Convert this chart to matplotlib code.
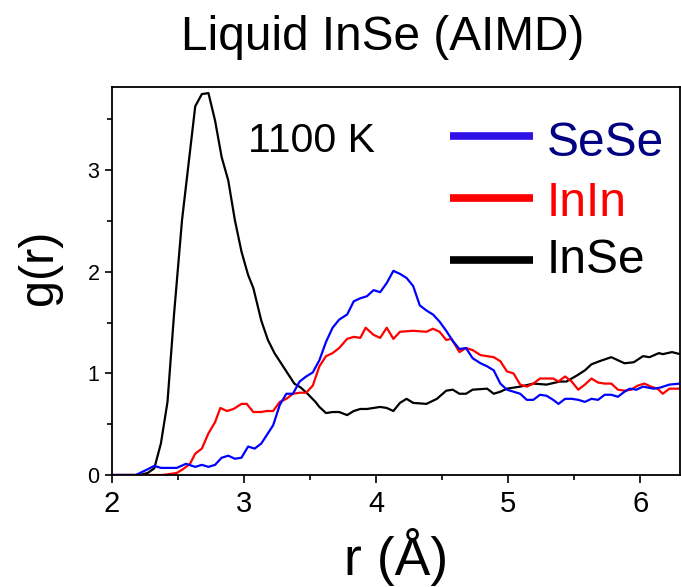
import matplotlib.pyplot as plt
from matplotlib.ticker import MultipleLocator

plt.rcParams['font.family'] = ['Liberation Sans', 'DejaVu Sans']

# InSe partial g(r)
r_inse = [2.0, 2.21, 2.27, 2.32, 2.37, 2.42, 2.47, 2.53, 2.58, 2.63, 2.68, 2.73, 2.78, 2.83,
          2.88, 2.93, 2.98, 3.03, 3.07, 3.13, 3.18, 3.23, 3.28, 3.33, 3.38, 3.43, 3.48, 3.54,
          3.57, 3.62, 3.67, 3.72, 3.78, 3.83, 3.88, 3.93, 3.98, 4.03, 4.08, 4.13, 4.18, 4.23,
          4.28, 4.38, 4.46, 4.53, 4.58, 4.63, 4.68, 4.73, 4.84, 4.89, 4.94, 4.99, 5.09, 5.19,
          5.29, 5.39, 5.44, 5.52, 5.58, 5.63, 5.69, 5.78, 5.83, 5.88, 5.95, 6.02, 6.07, 6.14,
          6.17, 6.24, 6.30]
g_inse = [0.0, 0.0, 0.02, 0.066, 0.31, 0.72, 1.59, 2.51, 3.07, 3.63, 3.75, 3.76, 3.49, 3.13,
          2.90, 2.51, 2.20, 1.97, 1.84, 1.52, 1.33, 1.20, 1.10, 1.00, 0.90, 0.86, 0.80, 0.72,
          0.67, 0.61, 0.62, 0.62, 0.59, 0.63, 0.65, 0.65, 0.66, 0.67, 0.66, 0.63, 0.71, 0.75,
          0.71, 0.70, 0.75, 0.83, 0.84, 0.80, 0.80, 0.84, 0.85, 0.80, 0.82, 0.85, 0.87, 0.90,
          0.89, 0.92, 0.92, 0.98, 1.03, 1.09, 1.12, 1.16, 1.13, 1.10, 1.11, 1.17, 1.16, 1.20,
          1.19, 1.21, 1.19]

# SeSe partial g(r)
r_sese = [2.0, 2.18, 2.26, 2.32, 2.37, 2.49, 2.56, 2.63, 2.68, 2.73, 2.78, 2.83, 2.88, 2.93,
          2.98, 3.03, 3.08, 3.13, 3.17, 3.22, 3.27, 3.32, 3.37, 3.42, 3.47, 3.52, 3.57, 3.62,
          3.67, 3.72, 3.78, 3.83, 3.88, 3.93, 3.98, 4.03, 4.08, 4.13, 4.18, 4.23, 4.28, 4.33,
          4.38, 4.43, 4.48, 4.53, 4.58, 4.63, 4.68, 4.73, 4.79, 4.84, 4.89, 4.94, 4.99, 5.04,
          5.09, 5.14, 5.19, 5.24, 5.29, 5.34, 5.38, 5.43, 5.48, 5.53, 5.58, 5.63, 5.68, 5.73,
          5.78, 5.83, 5.88, 5.92, 5.97, 6.02, 6.10, 6.15, 6.22, 6.30]
g_sese = [0.0, 0.0, 0.05, 0.09, 0.07, 0.07, 0.11, 0.08, 0.10, 0.08, 0.10, 0.17, 0.19, 0.16,
          0.17, 0.28, 0.26, 0.31, 0.39, 0.49, 0.69, 0.80, 0.80, 0.92, 0.97, 1.01, 1.13, 1.31,
          1.45, 1.53, 1.58, 1.71, 1.74, 1.76, 1.82, 1.80, 1.89, 2.01, 1.98, 1.94, 1.86, 1.67,
          1.62, 1.58, 1.51, 1.42, 1.32, 1.24, 1.25, 1.15, 1.10, 1.07, 1.03, 0.90, 0.84, 0.82,
          0.80, 0.74, 0.74, 0.79, 0.78, 0.74, 0.70, 0.75, 0.75, 0.74, 0.72, 0.75, 0.74, 0.79,
          0.79, 0.77, 0.82, 0.85, 0.84, 0.87, 0.85, 0.86, 0.89, 0.90]

# InIn partial g(r)
r_inin = [2.0, 2.38, 2.44, 2.49, 2.54, 2.59, 2.63, 2.68, 2.73, 2.78, 2.82, 2.87, 2.92, 2.98,
          3.02, 3.07, 3.13, 3.17, 3.22, 3.27, 3.32, 3.37, 3.42, 3.47, 3.52, 3.57, 3.62, 3.67,
          3.72, 3.78, 3.83, 3.88, 3.92, 3.98, 4.03, 4.08, 4.13, 4.18, 4.28, 4.38, 4.43, 4.48,
          4.53, 4.57, 4.63, 4.68, 4.73, 4.79, 4.84, 4.89, 4.94, 4.99, 5.04, 5.09, 5.14, 5.19,
          5.24, 5.34, 5.38, 5.43, 5.48, 5.53, 5.58, 5.63, 5.68, 5.73, 5.78, 5.83, 5.88, 5.93,
          5.98, 6.03, 6.08, 6.13, 6.17, 6.22, 6.30]
g_inin = [0.0, 0.0, 0.01, 0.02, 0.06, 0.11, 0.21, 0.26, 0.41, 0.52, 0.66, 0.63, 0.65, 0.70,
          0.70, 0.62, 0.62, 0.63, 0.63, 0.72, 0.75, 0.80, 0.81, 0.81, 0.88, 1.07, 1.17, 1.20,
          1.25, 1.34, 1.36, 1.35, 1.45, 1.38, 1.35, 1.45, 1.34, 1.41, 1.42, 1.41, 1.44, 1.41,
          1.33, 1.34, 1.21, 1.25, 1.23, 1.18, 1.17, 1.16, 1.12, 1.02, 1.00, 0.89, 0.87, 0.90,
          0.95, 0.95, 0.92, 0.97, 0.92, 0.84, 0.89, 0.95, 0.91, 0.90, 0.90, 0.84, 0.83, 0.84,
          0.88, 0.90, 0.87, 0.85, 0.80, 0.85, 0.85]

labels = ['SeSe', 'InIn', 'InSe']
line_colors = ['#3010e8', '#ff0000', '#000000']
text_colors = ['#000080', '#ff0000', '#000000']

fig = plt.figure(figsize=(6.81, 5.87), dpi=100)
ax = fig.add_axes([0.1645, 0.1908, 0.834, 0.661])

ax.plot(r_inse, g_inse, color='black', lw=1.6)
ax.plot(r_inin, g_inin, color='#ff0000', lw=1.6)
ax.plot(r_sese, g_sese, color='#0000ff', lw=1.6)

ax.set_xlim(2, 6.3)
ax.set_ylim(0, 3.82)
ax.xaxis.set_major_locator(MultipleLocator(1))
ax.xaxis.set_minor_locator(MultipleLocator(0.5))
ax.yaxis.set_major_locator(MultipleLocator(1))
ax.yaxis.set_minor_locator(MultipleLocator(0.5))
ax.tick_params(axis='x', which='major', labelsize=21, length=6, width=1.2, pad=5)
ax.tick_params(axis='y', which='major', labelsize=15.5, length=5, width=1.2, pad=4)
ax.tick_params(which='minor', length=3.5, width=1.2)
for s in ax.spines.values():
    s.set_linewidth(1.3)

xl = ax.set_xlabel('r (Å)', fontsize=38.5)
xl.set_verticalalignment('baseline')
ax.xaxis.set_label_coords(0.5, -0.2577)
yl = ax.set_ylabel('g(r)', fontsize=35)
yl.set_verticalalignment('center')
ax.yaxis.set_label_coords(-0.127, 0.534)

fig.suptitle('Liquid InSe (AIMD)', fontsize=34.4, x=0.5617, y=0.9148, va='baseline')

ax.text(0.2394, 0.8325, '1100 K', transform=ax.transAxes, fontsize=29.5, va='baseline')

# legend drawn by hand so each label can carry its own colour
line_y = [0.874, 0.714, 0.554]
text_y = [0.822, 0.668, 0.521]
for lab, lc, tc, ly, ty in zip(labels, line_colors, text_colors, line_y, text_y):
    ax.plot([0.595, 0.741], [ly, ly], transform=ax.transAxes, color=lc, lw=5.5,
            solid_capstyle='butt')
    ax.text(0.766, ty, lab, transform=ax.transAxes, color=tc, fontsize=34.5, va='baseline')

fig.savefig('out.png', dpi=100)
